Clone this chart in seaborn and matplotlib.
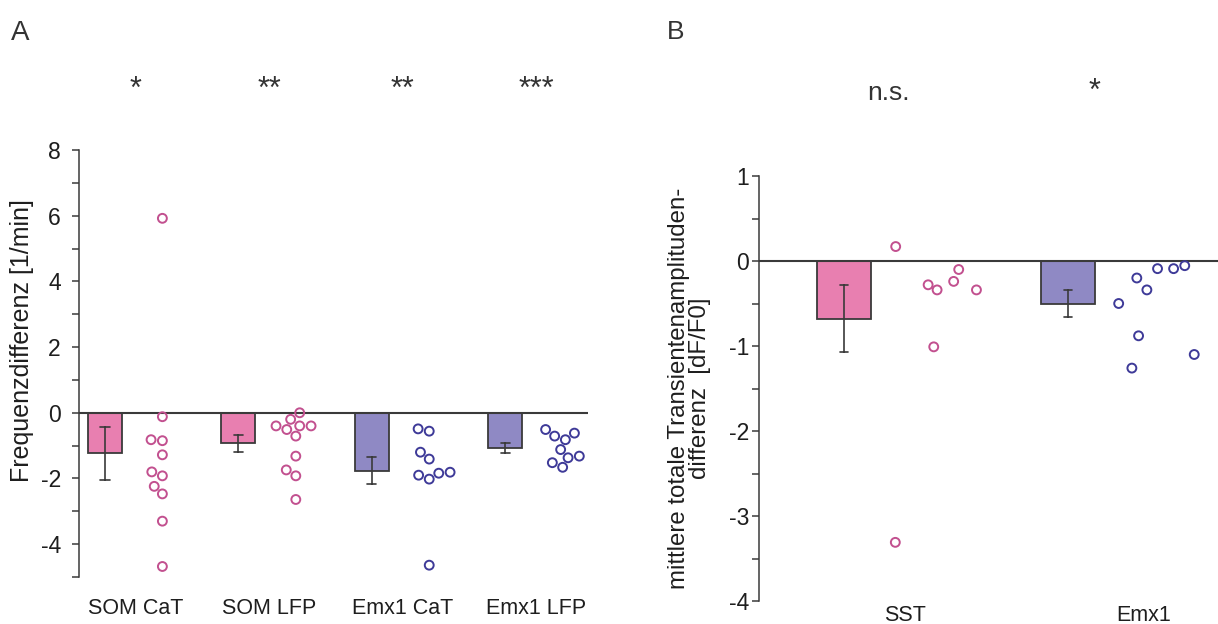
import numpy as np
import pandas as pd
import matplotlib
matplotlib.use("Agg")
import matplotlib.pyplot as plt
import matplotlib.transforms as mtransforms
from matplotlib.ticker import MultipleLocator
import seaborn as sns

# ---------------- data ----------------
groups_a = ["SOM CaT", "SOM LFP", "Emx1 CaT", "Emx1 LFP"]
kinds_a = ["SOM", "SOM", "Emx1", "Emx1"]
som_cat = [5.92, -0.12, -0.85, -0.82, -1.28, -1.92, -1.80, -2.24, -2.47, -3.30, -4.68]
som_lfp = [-0.71, -0.51, -0.40, -0.40, -0.40, 0.00, -0.20, -1.32, -1.74, -1.92, -2.64]
emx1_cat = [-0.56, -0.49, -1.20, -1.41, -1.90, -2.02, -1.84, -1.81, -4.64]
emx1_lfp = [-0.62, -0.82, -0.51, -0.71, -1.12, -1.37, -1.32, -1.66, -1.52]
sig_a = ["*", "**", "**", "***"]

groups_b = ["SST", "Emx1"]
kinds_b = ["SOM", "Emx1"]
sst_amp = [0.17, -0.10, -0.28, -0.24, -0.34, -0.34, -1.01, -3.31]
emx1_amp = [-0.20, -0.09, -0.09, -0.055, -0.34, -0.50, -0.88, -1.10, -1.26]
sig_b = ["n.s.", "*"]

# ---------------- style ----------------
fill_pal = {"SOM": "#E87FB0", "Emx1": "#8F89C4"}
edge_pal = {"SOM": "#C2508F", "Emx1": "#3E3A98"}
dark = "#3a3a3a"
txt = "#1e1e1e"

sns.set_theme(style="ticks")
plt.rcParams["font.family"] = ["Liberation Sans", "DejaVu Sans"]
plt.rcParams["axes.linewidth"] = 1.1
plt.rcParams["axes.unicode_minus"] = False


def make_df(names, series, kinds, pt_off):
    rows = []
    for i, (n, s, k) in enumerate(zip(names, series, kinds)):
        for v in s:
            rows.append(dict(group=n, pos=i, ppos=i + pt_off, kind=k, value=v))
    return pd.DataFrame(rows)


fig = plt.figure(figsize=(12.18, 6.24), dpi=100)
W, H = 1218, 624


def axes_px(left, top, right, bottom):
    return fig.add_axes([left / W, 1 - bottom / H, (right - left) / W, (bottom - top) / H])


axA = axes_px(79, 150, 588, 577)
axB = axes_px(759, 176, 1218, 601)


def draw_panel(ax, df, bar_w, cap, swarm):
    sns.barplot(data=df, x="pos", y="value", hue="kind", palette=fill_pal,
                native_scale=True, dodge=False, width=bar_w, orient="x",
                errorbar="se", capsize=cap, saturation=1,
                err_kws=dict(color=dark, linewidth=1.2),
                edgecolor=dark, linewidth=1.3, legend=False, ax=ax, zorder=2)
    if swarm:
        sns.swarmplot(data=df, x="ppos", y="value", hue="kind", palette=edge_pal,
                      native_scale=True, dodge=False, orient="x", size=6.4,
                      legend=False, ax=ax, zorder=4)
    else:
        np.random.seed(7)
        sns.stripplot(data=df, x="ppos", y="value", hue="kind", palette=edge_pal,
                      native_scale=True, dodge=False, orient="x", size=6.4,
                      jitter=0.2, legend=False, ax=ax, zorder=4)
    for coll in ax.collections:
        fc = coll.get_facecolors()
        coll.set_edgecolors(fc)
        coll.set_facecolors("none")
        coll.set_linewidth(1.4)
    ax.axhline(0, color=dark, lw=1.5, zorder=3)
    sns.despine(ax=ax, bottom=True)
    ax.spines["left"].set_color(dark)
    ax.set_xlabel("")


# ---------------- panel A ----------------
dfA = make_df(groups_a, [som_cat, som_lfp, emx1_cat, emx1_lfp], kinds_a, 0.43)
draw_panel(axA, dfA, 0.255, 0.068, True)
axA.set_ylim(-5, 8)
axA.set_xlim(-0.195, 3.62)
axA.yaxis.set_major_locator(MultipleLocator(2))
axA.yaxis.set_minor_locator(MultipleLocator(1))
axA.tick_params(axis="y", which="both", length=5, width=1.1, color=dark,
                labelsize=16.5, pad=8, labelcolor=txt, direction="out")
axA.set_xticks([i + 0.23 for i in range(len(groups_a))])
axA.set_xticklabels(groups_a)
axA.tick_params(axis="x", length=0, pad=15, labelsize=15.5, labelcolor=txt)
axA.set_ylabel("Frequenzdifferenz [1/min]", fontsize=18, color=txt)
axA.yaxis.set_label_coords(-0.088, 0.553)
trA = mtransforms.blended_transform_factory(axA.transData, axA.transAxes)
for i, s in enumerate(sig_a):
    axA.text(i + 0.23, 1.123, s, transform=trA, ha="center", va="baseline",
             fontsize=22, color="#333333")

# ---------------- panel B ----------------
dfB = make_df(groups_b, [sst_amp, emx1_amp], kinds_b, 0.40)
draw_panel(axB, dfB, 0.24, 0.039, False)
axB.set_ylim(-4, 1)
axB.set_xlim(-0.38, 1.67)
axB.yaxis.set_major_locator(MultipleLocator(1))
axB.yaxis.set_minor_locator(MultipleLocator(0.5))
axB.tick_params(axis="y", which="both", length=5, width=1.1, color=dark,
                labelsize=16.5, pad=2, labelcolor=txt, direction="out")
axB.set_xticks([0.27, 1.34])
axB.set_xticklabels(groups_b)
axB.tick_params(axis="x", length=0, pad=3, labelsize=15.5, labelcolor=txt)
axB.set_ylabel("mittlere totale Transientenamplituden-\ndifferenz  [dF/F0]",
               fontsize=17.3, color=txt, multialignment="center", linespacing=0.95)
axB.yaxis.set_label_coords(-0.105, 0.5)
trB = mtransforms.blended_transform_factory(axB.transData, axB.transAxes)
for x, s, y, fs in zip([0.2, 1.12], sig_b, [1.18, 1.18], [19, 22]):
    axB.text(x, y, s, transform=trB, ha="center", va="baseline",
             fontsize=fs, color="#333333")

fig.text(11 / W, 1 - 40 / H, "A", fontsize=20, color="#333333", va="baseline")
fig.text(667 / W, 1 - 39 / H, "B", fontsize=19, color="#333333", va="baseline")

fig.savefig("out.png", dpi=100)
